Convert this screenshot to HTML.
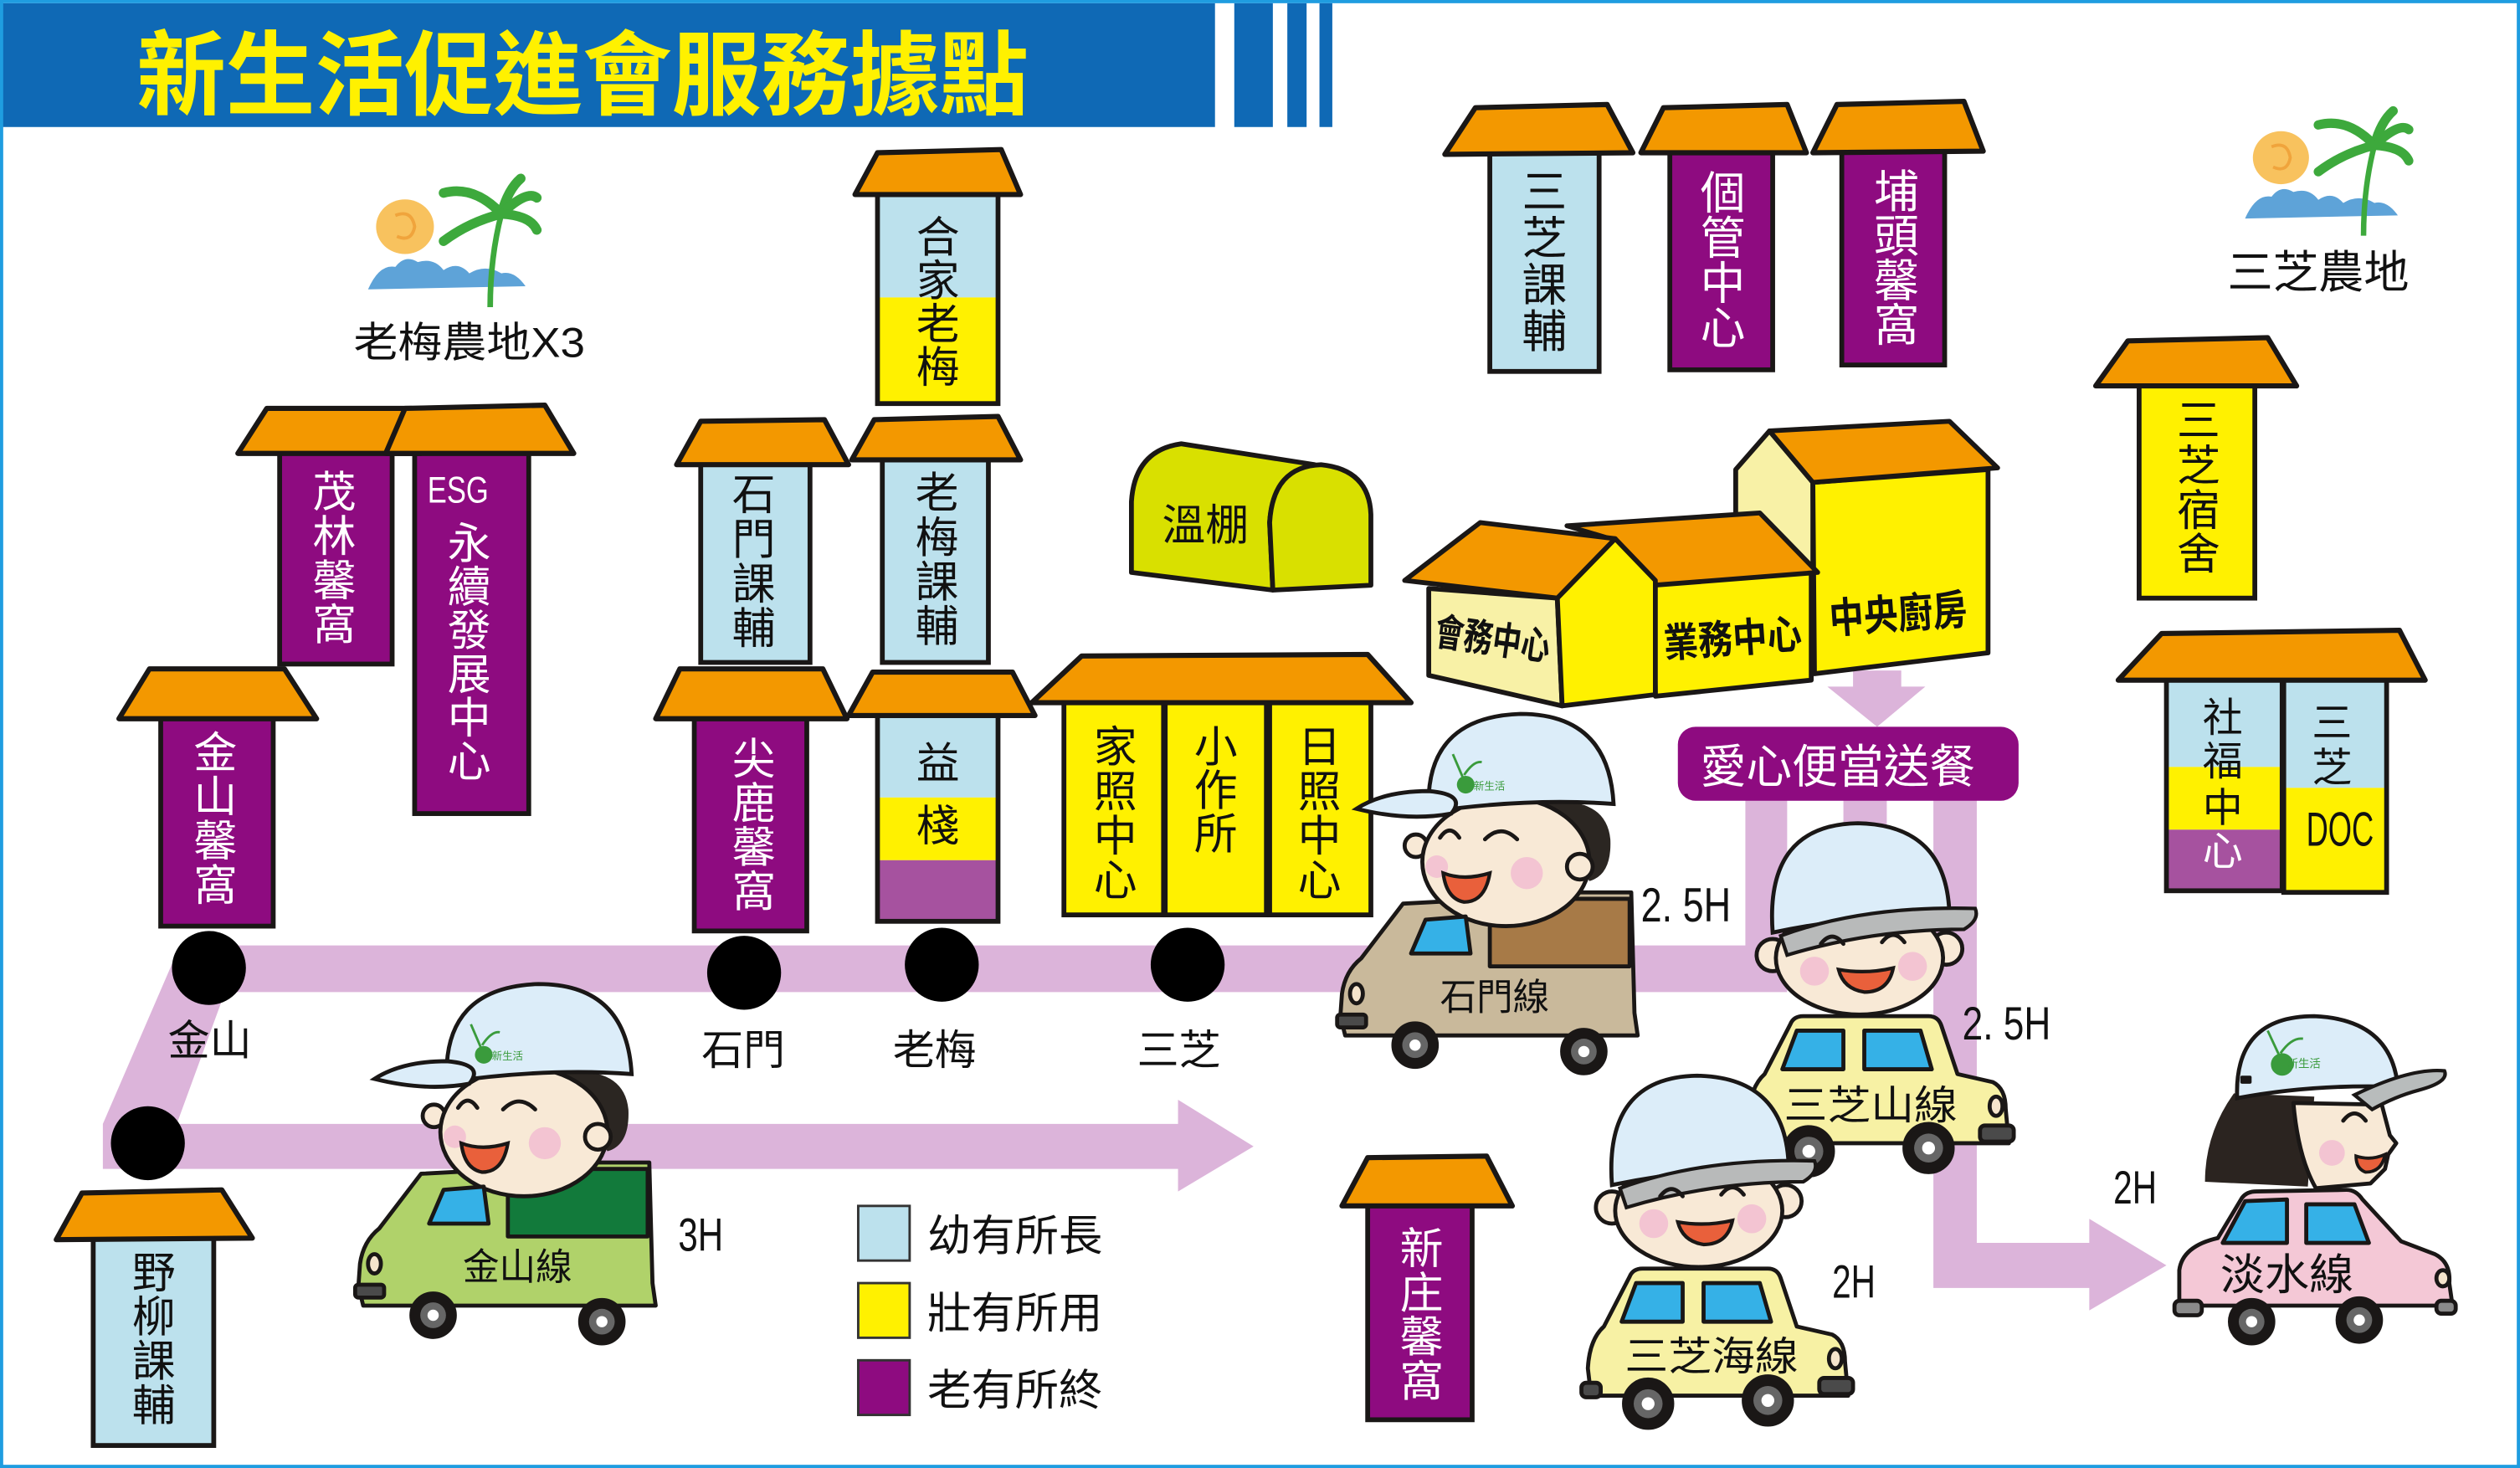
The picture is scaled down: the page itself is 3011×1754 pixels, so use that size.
<!DOCTYPE html>
<html><head><meta charset="utf-8">
<style>
html,body{margin:0;padding:0;background:#fff;}
svg{display:block;}
text{font-family:"Liberation Sans","Noto Sans CJK TC",sans-serif;fill:#111;}
.c{text-anchor:middle;}
.w{fill:#fff;}
.n{font-family:"Liberation Sans Narrow","Liberation Sans",sans-serif;}
.roof{fill:#f39800;stroke:#1a1716;stroke-width:3.2;stroke-linejoin:round;}
.ol{fill:none;stroke:#1a1716;stroke-width:3;}
.g{fill:#3a9b3c;}
</style></head><body>
<svg width="3011" height="1754" viewBox="0 0 1568 913" preserveAspectRatio="none" xmlns="http://www.w3.org/2000/svg">
<rect x="0" y="0" width="1568" height="913" fill="#fff"/>
<!-- header -->
<rect x="0" y="2" width="756" height="77" fill="#0f69b5"/>
<rect x="768" y="2" width="24" height="77" fill="#0f69b5"/>
<rect x="801" y="2" width="12" height="77" fill="#0f69b5"/>
<rect x="821" y="2" width="8" height="77" fill="#0f69b5"/>
<text x="85" y="67" font-size="57" font-weight="700" style="fill:#fff100" textLength="555" lengthAdjust="spacingAndGlyphs">新生活促進會服務據點</text>
<rect x="1" y="1" width="1566" height="911" fill="none" stroke="#1f9de0" stroke-width="2"/>

<!-- palm logo left -->
<g>
<ellipse cx="252" cy="141" rx="18" ry="17" fill="#f8c25e"/>
<path d="M246,134 Q256,130 258,141 Q256,151 247,147" fill="none" stroke="#f0a43c" stroke-width="2"/>
<path d="M229,180 Q236,164 246,166 Q252,158 260,163 Q270,160 276,168 Q285,162 292,170 Q302,164 312,170 Q320,168 327,178 Z" fill="#5ea3d8"/>
<path d="M305,191 Q305,160 312,133" fill="none" stroke="#3da93c" stroke-width="3.5"/>
<g fill="none" stroke="#3da93c" stroke-width="6" stroke-linecap="round">
<path d="M312,133 Q295,115 276,120"/><path d="M312,133 Q316,118 324,111"/><path d="M312,133 Q328,118 334,123"/><path d="M312,133 Q330,134 334,143"/><path d="M312,133 Q292,138 276,150"/>
</g></g>
<text x="220" y="222" font-size="26" textLength="144" lengthAdjust="spacingAndGlyphs">老梅農地X3</text>
<!-- palm logo right -->
<g transform="translate(1174.8,-38.7) scale(0.97)">
<ellipse cx="252" cy="141" rx="18" ry="17" fill="#f8c25e"/>
<path d="M246,134 Q256,130 258,141 Q256,151 247,147" fill="none" stroke="#f0a43c" stroke-width="2"/>
<path d="M229,180 Q236,164 246,166 Q252,158 260,163 Q270,160 276,168 Q285,162 292,170 Q302,164 312,170 Q320,168 327,178 Z" fill="#5ea3d8"/>
<path d="M305,191 Q305,160 312,133" fill="none" stroke="#3da93c" stroke-width="3.5"/>
<g fill="none" stroke="#3da93c" stroke-width="6" stroke-linecap="round">
<path d="M312,133 Q295,115 276,120"/><path d="M312,133 Q316,118 324,111"/><path d="M312,133 Q328,118 334,123"/><path d="M312,133 Q330,134 334,143"/><path d="M312,133 Q292,138 276,150"/>
</g></g>
<text x="1386" y="179" font-size="28" textLength="113" lengthAdjust="spacingAndGlyphs">三芝農地</text>

<!-- routes -->
<g fill="#dcb4da">
<polygon points="112,588 1086,588 1086,497 1112,497 1112,617 140,617 110,699 733,699 733,684 780,713 733,741 733,727 64,727 64,699"/>
<rect x="1147" y="497" width="27" height="80"/>
<polygon points="1203,497 1230,497 1230,773 1300,773 1300,758 1348,787 1300,815 1300,801 1203,801"/>
<polygon points="1153,417 1183,417 1183,427 1198,427 1168,452 1137,427 1153,427"/>
</g>
<rect x="1044" y="452" width="212" height="46" rx="11" fill="#8e0b80"/>
<text x="1058" y="487" font-size="29" class="w" textLength="171" lengthAdjust="spacingAndGlyphs">愛心便當送餐</text>

<!-- dots -->
<g fill="#000">
<circle cx="130" cy="602" r="23"/><circle cx="463" cy="605" r="23"/><circle cx="586" cy="600" r="23"/><circle cx="739" cy="600" r="23"/><circle cx="92" cy="711" r="23"/>
</g>
<text x="130.5" y="656" font-size="26" class="c">金山</text>
<text x="462.5" y="662" font-size="26" class="c">石門</text>
<text x="581.5" y="662" font-size="26" class="c">老梅</text>
<text x="733.5" y="662" font-size="26" class="c">三芝</text>

<!-- H1 合家老梅 -->
<rect x="546" y="121" width="75" height="64" fill="#bce1ed"/><rect x="546" y="185" width="75" height="66" fill="#fff100"/>
<rect x="546" y="119" width="75" height="132" class="ol"/>
<polygon class="roof" points="532,121 546,95 623,93 635,121"/>
<text x="583.6" y="157" font-size="27" class="c">合</text><text x="583.6" y="184" font-size="27" class="c">家</text><text x="583.6" y="211" font-size="27" class="c">老</text><text x="583.6" y="238" font-size="27" class="c">梅</text>

<!-- H2 老梅課輔 -->
<rect x="549" y="284" width="66" height="128" fill="#bce1ed" stroke="#1a1716" stroke-width="3"/>
<polygon class="roof" points="530,286 544,261 621,259 635,286"/>
<text x="583" y="316" font-size="27" class="c">老</text><text x="583" y="343.7" font-size="27" class="c">梅</text><text x="583" y="371.4" font-size="27" class="c">課</text><text x="583" y="399" font-size="27" class="c">輔</text>

<!-- H3 益棧 -->
<rect x="546" y="445" width="75" height="51" fill="#bce1ed"/><rect x="546" y="496" width="75" height="39" fill="#fff100"/><rect x="546" y="535" width="75" height="38" fill="#a6529f"/>
<rect x="546" y="443" width="75" height="130" class="ol"/>
<polygon class="roof" points="528,445 543,418 630,418 644,445"/>
<text x="583.6" y="484" font-size="27" class="c">益</text><text x="583.6" y="523" font-size="27" class="c">棧</text>

<!-- H4 石門課輔 -->
<rect x="436" y="287" width="68" height="125" fill="#bce1ed" stroke="#1a1716" stroke-width="3"/>
<polygon class="roof" points="421,289 436,262 513,261 528,289"/>
<text x="469" y="317" font-size="27" class="c">石</text><text x="469" y="344.8" font-size="27" class="c">門</text><text x="469" y="372.6" font-size="27" class="c">課</text><text x="469" y="400.4" font-size="27" class="c">輔</text>

<!-- H5 尖鹿馨窩 -->
<rect x="432" y="445" width="70" height="134" fill="#8e0b80" stroke="#1a1716" stroke-width="3"/>
<polygon class="roof" points="408,447 423,416 512,416 527,447"/>
<text x="469" y="481.5" font-size="27" class="c w">尖</text><text x="469" y="509" font-size="27" class="c w">鹿</text><text x="469" y="536.5" font-size="27" class="c w">馨</text><text x="469" y="564" font-size="27" class="c w">窩</text>

<!-- H6 金山馨窩 -->
<rect x="100" y="445" width="70" height="131" fill="#8e0b80" stroke="#1a1716" stroke-width="3"/>
<polygon class="roof" points="74,447 93,416 177,416 197,447"/>
<text x="134" y="477.5" font-size="27" class="c w">金</text><text x="134" y="505" font-size="27" class="c w">山</text><text x="134" y="532.5" font-size="27" class="c w">馨</text><text x="134" y="560" font-size="27" class="c w">窩</text>

<!-- H7 茂林馨窩 + ESG -->
<rect x="174" y="280" width="70" height="133" fill="#8e0b80" stroke="#1a1716" stroke-width="3"/>
<rect x="258" y="280" width="71" height="226" fill="#8e0b80" stroke="#1a1716" stroke-width="3"/>
<polygon class="roof" points="148,282 166,254 256,254 262,282"/>
<polygon class="roof" points="240,282 252,254 339,252 357,282"/>
<text x="208" y="315.5" font-size="27" class="c w">茂</text><text x="208" y="343" font-size="27" class="c w">林</text><text x="208" y="370.5" font-size="27" class="c w">馨</text><text x="208" y="398" font-size="27" class="c w">窩</text>
<text x="266" y="312.5" font-size="23" class="w n" textLength="38" lengthAdjust="spacingAndGlyphs">ESG</text>
<text x="292" y="347.5" font-size="27" class="c w">永</text><text x="292" y="374.6" font-size="27" class="c w">續</text><text x="292" y="401.7" font-size="27" class="c w">發</text><text x="292" y="428.8" font-size="27" class="c w">展</text><text x="292" y="455.9" font-size="27" class="c w">中</text><text x="292" y="483" font-size="27" class="c w">心</text>

<!-- H8 big house -->
<rect x="662" y="435" width="62" height="134" fill="#fff100" stroke="#1a1716" stroke-width="3"/>
<rect x="725" y="435" width="63" height="134" fill="#fff100" stroke="#1a1716" stroke-width="3"/>
<rect x="790" y="435" width="63" height="134" fill="#fff100" stroke="#1a1716" stroke-width="3"/>
<polygon class="roof" points="642,437 673,408 851,407 878,437"/>
<text x="694" y="474" font-size="27" class="c">家</text><text x="694" y="501.7" font-size="27" class="c">照</text><text x="694" y="529.4" font-size="27" class="c">中</text><text x="694" y="557" font-size="27" class="c">心</text>
<text x="756.5" y="474" font-size="27" class="c">小</text><text x="756.5" y="501" font-size="27" class="c">作</text><text x="756.5" y="528" font-size="27" class="c">所</text>
<text x="821" y="474" font-size="27" class="c">日</text><text x="821" y="501.7" font-size="27" class="c">照</text><text x="821" y="529.4" font-size="27" class="c">中</text><text x="821" y="557" font-size="27" class="c">心</text>

<!-- 溫棚 -->
<path d="M704,356 L704,312 Q706,280 735,276 L818,289 Q792,294 790,325 L792,367 Z" fill="#d9e000" stroke="#1a1716" stroke-width="3" stroke-linejoin="round"/>
<path d="M792,367 L790,325 Q792,290 822,289 Q852,292 853,320 L853,364 Z" fill="#d9e000" stroke="#1a1716" stroke-width="3" stroke-linejoin="round"/>
<text x="750" y="336" font-size="27" class="c" textLength="54" lengthAdjust="spacingAndGlyphs">溫棚</text>

<!-- top row -->
<rect x="927" y="94" width="68" height="137" fill="#bce1ed" stroke="#1a1716" stroke-width="3"/>
<polygon class="roof" points="899,96 918,67 1000,65 1016,95"/>
<text x="961" y="129" font-size="28" class="c">三</text><text x="961" y="158" font-size="28" class="c">芝</text><text x="961" y="187" font-size="28" class="c">課</text><text x="961" y="216" font-size="28" class="c">輔</text>
<rect x="1039" y="93" width="64" height="137" fill="#8e0b80" stroke="#1a1716" stroke-width="3"/>
<polygon class="roof" points="1021,95 1035,67 1112,65 1124,95"/>
<text x="1072" y="130" font-size="28" class="c w">個</text><text x="1072" y="158" font-size="28" class="c w">管</text><text x="1072" y="186" font-size="28" class="c w">中</text><text x="1072" y="214" font-size="28" class="c w">心</text>
<rect x="1146" y="92" width="64" height="135" fill="#8e0b80" stroke="#1a1716" stroke-width="3"/>
<polygon class="roof" points="1128,95 1143,65 1222,63 1234,94"/>
<text x="1180" y="129" font-size="28" class="c w">埔</text><text x="1180" y="156.7" font-size="28" class="c w">頭</text><text x="1180" y="184.4" font-size="28" class="c w">馨</text><text x="1180" y="212" font-size="28" class="c w">窩</text>

<!-- 三芝宿舍 -->
<rect x="1331" y="238" width="72" height="134" fill="#fff100" stroke="#1a1716" stroke-width="3"/>
<polygon class="roof" points="1304,240 1324,212 1411,210 1429,240"/>
<text x="1368" y="271" font-size="27" class="c">三</text><text x="1368" y="299" font-size="27" class="c">芝</text><text x="1368" y="327" font-size="27" class="c">宿</text><text x="1368" y="354" font-size="27" class="c">舍</text>

<!-- 社福中心 / 三芝DOC -->
<rect x="1348" y="424" width="72" height="53" fill="#bce1ed"/><rect x="1348" y="477" width="72" height="39" fill="#fff100"/><rect x="1348" y="516" width="72" height="38" fill="#a6529f"/>
<rect x="1421" y="424" width="64" height="66" fill="#bce1ed"/><rect x="1421" y="490" width="64" height="65" fill="#fff100"/>
<rect x="1348" y="422" width="72" height="132" class="ol"/>
<rect x="1421" y="422" width="64" height="133" class="ol"/>
<polygon class="roof" points="1318,423 1345,394 1493,392 1509,423"/>
<text x="1383" y="455" font-size="25" class="c">社</text><text x="1383" y="482" font-size="25" class="c">福</text><text x="1383" y="511" font-size="25" class="c">中</text><text x="1383" y="538" font-size="25" class="c w">心</text>
<text x="1451" y="458" font-size="25" class="c">三</text><text x="1451" y="486" font-size="25" class="c">芝</text>
<text x="1435" y="526" font-size="30" class="n" textLength="42" lengthAdjust="spacingAndGlyphs">DOC</text>

<!-- 新庄馨窩 -->
<rect x="851" y="748" width="65" height="135" fill="#8e0b80" stroke="#1a1716" stroke-width="3"/>
<polygon class="roof" points="835,750 851,720 925,719 941,750"/>
<text x="884.5" y="786" font-size="27" class="c w">新</text><text x="884.5" y="813.5" font-size="27" class="c w">庄</text><text x="884.5" y="841" font-size="27" class="c w">馨</text><text x="884.5" y="868.5" font-size="27" class="c w">窩</text>

<!-- 野柳課輔 -->
<rect x="58" y="769" width="75" height="130" fill="#bce1ed" stroke="#1a1716" stroke-width="3"/>
<polygon class="roof" points="35,771 51,742 138,740 157,770"/>
<text x="95.7" y="801" font-size="27" class="c">野</text><text x="95.7" y="828.5" font-size="27" class="c">柳</text><text x="95.7" y="856" font-size="27" class="c">課</text><text x="95.7" y="883.5" font-size="27" class="c">輔</text>

<!-- building complex -->
<g stroke="#1a1716" stroke-width="3" stroke-linejoin="round">
<polygon points="1080,292 1101,268 1128,300 1128,362 1080,362" fill="#f8f1a6"/>
<polygon points="1128,300 1237,292 1237,406 1129,419" fill="#fff100"/>
<polygon points="1101,268 1213,262 1243,291 1128,300" fill="#f39800"/>
<polygon points="1029,363 1127,355 1127,423 1030,433" fill="#fff100"/>
<polygon points="975,327 1095,319 1131,356 1029,364 1005,336" fill="#f39800"/>
<polygon points="889,366 969,372 972,439 889,420" fill="#f8f1a6"/>
<polygon points="969,372 1005,335 1030,361 1030,432 972,439" fill="#fff100"/>
<polygon points="874,361 921,325 1005,335 969,372" fill="#f39800"/>
</g>
<text x="929" y="406" font-size="24" font-weight="700" class="c" textLength="72" lengthAdjust="spacingAndGlyphs" transform="rotate(8 929 396)">會務中心</text>
<text x="1078" y="406" font-size="25" font-weight="700" class="c" textLength="86" lengthAdjust="spacingAndGlyphs" transform="rotate(-4 1078 396)">業務中心</text>
<text x="1181" y="391" font-size="26" font-weight="700" class="c" textLength="86" lengthAdjust="spacingAndGlyphs" transform="rotate(-4 1181 381)">中央廚房</text>

<!-- legend -->
<rect x="534" y="750" width="32" height="34" fill="#bce1ed" stroke="#333" stroke-width="1.5"/>
<rect x="534" y="798" width="32" height="34" fill="#fff100" stroke="#333" stroke-width="1.5"/>
<rect x="534" y="846" width="32" height="34" fill="#8e0b80" stroke="#333" stroke-width="1.5"/>
<text x="577" y="778" font-size="27" textLength="109" lengthAdjust="spacingAndGlyphs">幼有所長</text>
<text x="577" y="826" font-size="27" textLength="109" lengthAdjust="spacingAndGlyphs">壯有所用</text>
<text x="577" y="874" font-size="27" textLength="109" lengthAdjust="spacingAndGlyphs">老有所終</text>

<!-- 金山線 truck -->
<g id="truck1">
<g stroke="#1a1716" stroke-width="2.5" stroke-linejoin="round">
<path d="M226,812 L223,800 L224,786 Q226,772 236,764 L262,730 L318,727 L318,723 L404,723 L406,798 L408,812 Z" fill="#b0d26a"/>
<rect x="316" y="727" width="87" height="42" fill="#127a3b"/>
<rect x="221" y="799" width="18" height="8" rx="2" fill="#4a4a4a"/>
<ellipse cx="233" cy="786" rx="4" ry="6" fill="#f5e4cc"/>
<circle cx="269.5" cy="818" r="13.5" fill="#1a1716"/>
<circle cx="374.5" cy="822" r="13.5" fill="#1a1716"/>
</g>
<circle cx="269.5" cy="818" r="8" fill="#666"/><circle cx="269.5" cy="818" r="3.5" fill="#fff"/>
<circle cx="374.5" cy="822" r="8" fill="#666"/><circle cx="374.5" cy="822" r="3.5" fill="#fff"/>
<path d="M340,668 Q388,660 391,690 Q392,712 378,716 L360,690 Z" fill="#2b2622"/>
<circle cx="270" cy="694" r="7" fill="#f8e9d6" stroke="#1a1716" stroke-width="2.5"/>
<ellipse cx="326" cy="704" rx="52" ry="40" fill="#f8e9d6" stroke="#1a1716" stroke-width="2.5"/>
<circle cx="372" cy="707" r="8" fill="#f8e9d6" stroke="#1a1716" stroke-width="2.5"/>
<circle cx="283" cy="707" r="7" fill="#f3c4d2"/><circle cx="339" cy="711" r="10" fill="#f3c4d2"/>
<path d="M285,689 Q291,680 297,689 M313,690 Q323,680 333,690" fill="none" stroke="#1a1716" stroke-width="2.5" stroke-linecap="round"/>
<path d="M287,711 Q300,716 316,711 Q313,729 300,729 Q289,727 287,711 Z" fill="#e9603b" stroke="#1a1716" stroke-width="2.2"/>
<path d="M278,673 Q275,614 335,612 Q390,612 393,668 Q340,664 278,673 Z" fill="#dcedf9" stroke="#1a1716" stroke-width="2.5"/>
<path d="M233,671 Q250,660 278,660 Q302,662 292,674 Q265,679 233,671 Z" fill="#dcedf9" stroke="#1a1716" stroke-width="2.5"/>
<circle cx="301" cy="656" r="5.5" class="g"/>
<path d="M299,651 L293,637 M300,650 Q306,641 311,642" fill="none" stroke="#3a9b3c" stroke-width="1.5"/>
<text x="306" y="659" font-size="6.5" class="g">新生活</text>
<path d="M267,761 L276,740 L301,738 L304,761 Z" fill="#35b1e7" stroke="#1a1716" stroke-width="2.5" stroke-linejoin="round"/>
</g>
<text x="322" y="796" font-size="23" class="c" textLength="68" lengthAdjust="spacingAndGlyphs">金山線</text>
<text x="422" y="778" font-size="29" class="n" textLength="28" lengthAdjust="spacingAndGlyphs">3H</text>

<!-- 石門線 truck -->
<g transform="translate(611,-168)">
<g stroke="#1a1716" stroke-width="2.5" stroke-linejoin="round">
<path d="M226,812 L223,800 L224,786 Q226,772 236,764 L262,730 L318,727 L318,723 L404,723 L406,798 L408,812 Z" fill="#c9b99b"/>
<rect x="316" y="727" width="87" height="42" fill="#a77a47"/>
<rect x="221" y="799" width="18" height="8" rx="2" fill="#4a4a4a"/>
<ellipse cx="233" cy="786" rx="4" ry="6" fill="#f5e4cc"/>
<circle cx="269.5" cy="818" r="13.5" fill="#1a1716"/>
<circle cx="374.5" cy="822" r="13.5" fill="#1a1716"/>
</g>
<circle cx="269.5" cy="818" r="8" fill="#666"/><circle cx="269.5" cy="818" r="3.5" fill="#fff"/>
<circle cx="374.5" cy="822" r="8" fill="#666"/><circle cx="374.5" cy="822" r="3.5" fill="#fff"/>
<path d="M340,668 Q388,660 391,690 Q392,712 378,716 L360,690 Z" fill="#2b2622"/>
<circle cx="270" cy="694" r="7" fill="#f8e9d6" stroke="#1a1716" stroke-width="2.5"/>
<ellipse cx="326" cy="704" rx="52" ry="40" fill="#f8e9d6" stroke="#1a1716" stroke-width="2.5"/>
<circle cx="372" cy="707" r="8" fill="#f8e9d6" stroke="#1a1716" stroke-width="2.5"/>
<circle cx="283" cy="707" r="7" fill="#f3c4d2"/><circle cx="339" cy="711" r="10" fill="#f3c4d2"/>
<path d="M285,689 Q291,680 297,689 M313,690 Q323,680 333,690" fill="none" stroke="#1a1716" stroke-width="2.5" stroke-linecap="round"/>
<path d="M287,711 Q300,716 316,711 Q313,729 300,729 Q289,727 287,711 Z" fill="#e9603b" stroke="#1a1716" stroke-width="2.2"/>
<path d="M278,673 Q275,614 335,612 Q390,612 393,668 Q340,664 278,673 Z" fill="#dcedf9" stroke="#1a1716" stroke-width="2.5"/>
<path d="M233,671 Q250,660 278,660 Q302,662 292,674 Q265,679 233,671 Z" fill="#dcedf9" stroke="#1a1716" stroke-width="2.5"/>
<circle cx="301" cy="656" r="5.5" class="g"/>
<path d="M299,651 L293,637 M300,650 Q306,641 311,642" fill="none" stroke="#3a9b3c" stroke-width="1.5"/>
<text x="306" y="659" font-size="6.5" class="g">新生活</text>
<path d="M267,761 L276,740 L301,738 L304,761 Z" fill="#35b1e7" stroke="#1a1716" stroke-width="2.5" stroke-linejoin="round"/>
</g>
<text x="930" y="628" font-size="23" class="c" textLength="68" lengthAdjust="spacingAndGlyphs">石門線</text>
<text x="1021" y="573" font-size="30" class="n" textLength="56" lengthAdjust="spacingAndGlyphs">2. 5H</text>

<!-- 三芝山線 sedan -->
<g>
<g stroke="#1a1716" stroke-width="2.5" stroke-linejoin="round">
<path d="M1090,711 L1088,694 Q1089,676 1098,668 L1114,637 Q1116,632 1122,632 L1200,632 Q1206,632 1208,638 L1218,668 L1240,673 Q1248,677 1248,690 L1250,711 Z" fill="#f7f1a4"/>
<path d="M1109,665 L1118,641 L1147,641 L1147,665 Z" fill="#35b1e7"/>
<path d="M1160,641 L1195,641 L1202,665 L1160,665 Z" fill="#35b1e7"/>
<rect x="1232" y="700" width="21" height="10" rx="3" fill="#4a4a4a"/>
<rect x="1084" y="703" width="12" height="9" rx="3" fill="#4a4a4a"/>
<ellipse cx="1242" cy="688" rx="4" ry="6" fill="#f5e4cc"/>
<circle cx="1125.5" cy="716" r="15" fill="#1a1716"/>
<circle cx="1200" cy="714" r="15" fill="#1a1716"/>
</g>
<circle cx="1125.5" cy="716" r="9" fill="#666"/><circle cx="1125.5" cy="716" r="4" fill="#fff"/>
<circle cx="1200" cy="714" r="9" fill="#666"/><circle cx="1200" cy="714" r="4" fill="#fff"/>
<circle cx="1103" cy="594" r="10" fill="#f8e9d6" stroke="#1a1716" stroke-width="2.5"/>
<circle cx="1211" cy="590" r="10" fill="#f8e9d6" stroke="#1a1716" stroke-width="2.5"/>
<ellipse cx="1157" cy="596" rx="52" ry="35" fill="#f8e9d6" stroke="#1a1716" stroke-width="2.5"/>
<path d="M1103,580 Q1098,513 1156,512 Q1212,513 1213,570 Q1160,568 1103,580 Z" fill="#dcedf9" stroke="#1a1716" stroke-width="2.5"/>
<path d="M1108,582 Q1160,563 1229,565 Q1232,572 1222,578 Q1165,578 1112,594 Z" fill="#b8baba" stroke="#1a1716" stroke-width="2.2"/>
<circle cx="1129" cy="604" r="9" fill="#f3c4d2"/><circle cx="1190" cy="601" r="9" fill="#f3c4d2"/>
<path d="M1133,587 Q1140,578 1147,587 M1171,586 Q1178,577 1185,586" fill="none" stroke="#1a1716" stroke-width="2.5" stroke-linecap="round"/>
<path d="M1144,603 Q1161,606 1178,602 Q1175,617 1160,617 Q1147,615 1144,603 Z" fill="#e9603b" stroke="#1a1716" stroke-width="2.2"/>
</g>
<text x="1164" y="696" font-size="25" class="c" textLength="108" lengthAdjust="spacingAndGlyphs">三芝山線</text>
<text x="1221" y="646.5" font-size="29" class="n" textLength="55" lengthAdjust="spacingAndGlyphs">2. 5H</text>

<!-- 三芝海線 sedan -->
<g transform="translate(-100,157)">
<g stroke="#1a1716" stroke-width="2.5" stroke-linejoin="round">
<path d="M1090,711 L1088,694 Q1089,676 1098,668 L1114,637 Q1116,632 1122,632 L1200,632 Q1206,632 1208,638 L1218,668 L1240,673 Q1248,677 1248,690 L1250,711 Z" fill="#f7f1a4"/>
<path d="M1109,665 L1118,641 L1147,641 L1147,665 Z" fill="#35b1e7"/>
<path d="M1160,641 L1195,641 L1202,665 L1160,665 Z" fill="#35b1e7"/>
<rect x="1232" y="700" width="21" height="10" rx="3" fill="#4a4a4a"/>
<rect x="1084" y="703" width="12" height="9" rx="3" fill="#4a4a4a"/>
<ellipse cx="1242" cy="688" rx="4" ry="6" fill="#f5e4cc"/>
<circle cx="1125.5" cy="716" r="15" fill="#1a1716"/>
<circle cx="1200" cy="714" r="15" fill="#1a1716"/>
</g>
<circle cx="1125.5" cy="716" r="9" fill="#666"/><circle cx="1125.5" cy="716" r="4" fill="#fff"/>
<circle cx="1200" cy="714" r="9" fill="#666"/><circle cx="1200" cy="714" r="4" fill="#fff"/>
<circle cx="1103" cy="594" r="10" fill="#f8e9d6" stroke="#1a1716" stroke-width="2.5"/>
<circle cx="1211" cy="590" r="10" fill="#f8e9d6" stroke="#1a1716" stroke-width="2.5"/>
<ellipse cx="1157" cy="596" rx="52" ry="35" fill="#f8e9d6" stroke="#1a1716" stroke-width="2.5"/>
<path d="M1103,580 Q1098,513 1156,512 Q1212,513 1213,570 Q1160,568 1103,580 Z" fill="#dcedf9" stroke="#1a1716" stroke-width="2.5"/>
<path d="M1108,582 Q1160,563 1229,565 Q1232,572 1222,578 Q1165,578 1112,594 Z" fill="#b8baba" stroke="#1a1716" stroke-width="2.2"/>
<circle cx="1129" cy="604" r="9" fill="#f3c4d2"/><circle cx="1190" cy="601" r="9" fill="#f3c4d2"/>
<path d="M1133,587 Q1140,578 1147,587 M1171,586 Q1178,577 1185,586" fill="none" stroke="#1a1716" stroke-width="2.5" stroke-linecap="round"/>
<path d="M1144,603 Q1161,606 1178,602 Q1175,617 1160,617 Q1147,615 1144,603 Z" fill="#e9603b" stroke="#1a1716" stroke-width="2.2"/>
</g>
<text x="1065" y="852" font-size="25" class="c" textLength="108" lengthAdjust="spacingAndGlyphs">三芝海線</text>
<text x="1140" y="807" font-size="29" class="n" textLength="27" lengthAdjust="spacingAndGlyphs">2H</text>

<!-- 淡水線 girl car -->
<g>
<g stroke="#1a1716" stroke-width="2.5" stroke-linejoin="round">
<path d="M1356,812 L1356,790 Q1358,775 1380,770 L1395,745 Q1398,741 1404,741 L1460,740 Q1466,740 1470,746 L1494,772 L1515,780 Q1525,785 1524,798 L1526,812 Z" fill="#f4c8d6"/>
<path d="M1383,773 L1397,747 L1423,746 L1423,773 Z" fill="#35b1e7"/>
<path d="M1435,749 L1465,749 L1474,773 L1435,773 Z" fill="#35b1e7"/>
<rect x="1353" y="809" width="17" height="9" rx="3" fill="#8a8a8a"/>
<rect x="1516" y="809" width="12" height="8" rx="3" fill="#8a8a8a"/>
<ellipse cx="1520" cy="795" rx="4" ry="5" fill="#f5e4cc"/>
<circle cx="1401" cy="822" r="13.5" fill="#1a1716"/>
<circle cx="1468" cy="821" r="13.5" fill="#1a1716"/>
</g>
<circle cx="1401" cy="822" r="8" fill="#666"/><circle cx="1401" cy="822" r="3.5" fill="#fff"/>
<circle cx="1468" cy="821" r="8" fill="#666"/><circle cx="1468" cy="821" r="3.5" fill="#fff"/>
<path d="M1390,680 L1440,682 L1436,738 L1372,735 Q1372,705 1390,680 Z" fill="#2b2420"/>
<path d="M1427,686 L1482,687 L1487,706 L1491,711 L1486,718 L1484,727 L1475,736 L1441,739 Q1430,720 1427,686 Z" fill="#f8e9d6" stroke="#1a1716" stroke-width="2.5" stroke-linejoin="round"/>
<circle cx="1451" cy="717" r="8" fill="#f3c4d2"/>
<path d="M1458,697 Q1465,688 1472,697" fill="none" stroke="#1a1716" stroke-width="2.5" stroke-linecap="round"/>
<path d="M1466,719 Q1475,722 1484,718 Q1482,729 1472,729 Q1466,727 1466,719 Z" fill="#e9603b" stroke="#1a1716" stroke-width="2"/>
<path d="M1392,683 Q1390,632 1440,632 Q1488,634 1492,676 Q1440,674 1392,683 Z" fill="#dcedf9" stroke="#1a1716" stroke-width="2.5"/>
<rect x="1394" y="669" width="7" height="5" rx="1" fill="#1a1716"/>
<path d="M1465,681 Q1500,664 1521,666 Q1524,673 1505,678 Q1490,682 1476,690 Z" fill="#b8bcbc" stroke="#1a1716" stroke-width="2.2"/>
<circle cx="1420" cy="662" r="7" class="g"/>
<path d="M1418,656 L1411,641 M1419,655 Q1426,645 1433,646" fill="none" stroke="#3a9b3c" stroke-width="1.5"/>
<text x="1423" y="664" font-size="7" class="g">新生活</text>
</g>
<text x="1423" y="802" font-size="27" class="c" textLength="83" lengthAdjust="spacingAndGlyphs">淡水線</text>
<text x="1315" y="748.5" font-size="29" class="n" textLength="27" lengthAdjust="spacingAndGlyphs">2H</text>
</svg>
</body></html>
